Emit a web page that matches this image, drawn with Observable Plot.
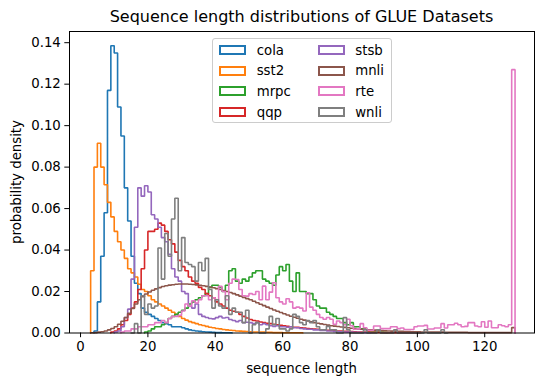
<!DOCTYPE html>
<html><head><meta charset="utf-8">
<script src="https://cdn.jsdelivr.net/npm/d3@7"></script>
<script src="https://cdn.jsdelivr.net/npm/@observablehq/plot@0.6"></script>
<style>
body{margin:0;background:#fff;font-family:"DejaVu Sans",sans-serif;color:#000;}
#wrap{position:relative;width:544px;height:385px;overflow:hidden;}
#title{position:absolute;left:69px;width:465px;top:7px;text-align:center;font-size:16px;line-height:20px;white-space:nowrap;}
#chart{position:absolute;left:0;top:30px;}
#xlabel{position:absolute;left:69px;width:465px;top:361px;text-align:center;font-size:13.3px;line-height:16px;}
#ylabel{position:absolute;left:-83px;top:174px;width:200px;height:16px;line-height:16px;text-align:center;font-size:13.3px;transform:rotate(-90deg);transform-origin:center;white-space:nowrap;}
#legend{position:absolute;left:212px;top:38px;box-sizing:border-box;border:1px solid #cccccc;border-radius:3px;background:rgba(255,255,255,0.8);padding:4px 7px 3px 6px;display:grid;grid-template-rows:repeat(4,14px);grid-auto-flow:column;column-gap:26.7px;row-gap:6.7px;font-size:13.3px;}
.item{display:flex;align-items:center;height:14px;white-space:nowrap;}
.patch{box-sizing:border-box;width:27px;height:10px;border:2px solid;background:#fff;margin-right:10.7px;}
</style>
</head><body>
<div id="wrap">
  <div id="title">Sequence length distributions of GLUE Datasets</div>
  <div id="chart"></div>
  <div id="xlabel">sequence length</div>
  <div id="ylabel">probability density</div>
  <div id="legend"></div>
</div>
<script>
// Series names and colours (legend order)
const names = ["cola","sst2","mrpc","qqp","stsb","mnli","rte","wnli"];
const colors = ["#1f77b4","#ff7f0e","#2ca02c","#d62728","#9467bd","#8c564b","#e377c2","#7f7f7f"];

// Axis ticks
const xTicks = [0,20,40,60,80,100,120];
const yTicks = [0,0.02,0.04,0.06,0.08,0.10,0.12,0.14];

// Histogram densities: first bin (sequence length) and one density per unit-width bin
const colaStart = 4;
const cola = [0.001,0.015,0.037,0.058,0.117,0.1385,0.135,0.109,0.095,0.070,0.054,0.037,0.024,0.019,0.012,0.010,0.009,0.008,0.007,0.006,0.005,0.0045,0.004,0.003,0.003,0.003,0.0025,0.002,0.0015,0.0012,0.001,0.0008,0.0006,0.0005,0.0004,0.0003,0.0002,0.0002,0.0001,0.0001,0.0001];

const sst2Start = 3;
const sst2 = [0.030,0.080,0.0915,0.080,0.0715,0.063,0.056,0.049,0.044,0.040,0.036,0.031,0.029,0.027,0.0235,0.021,0.020,0.018,0.016,0.015,0.014,0.013,0.012,0.011,0.010,0.009,0.008,0.007,0.0062,0.0055,0.005,0.0045,0.004,0.0036,0.0032,0.0028,0.0025,0.0022,0.002,0.0017,0.0015,0.0013,0.0012,0.001,0.0009,0.0008,0.0007,0.0006,0.0005,0.0005,0.0004,0.0004,0.0003,0.0003,0.0002,0.0002,0.0002,0.0001,0.0001,0.0001,0.0001,0.0001,0.0001];

const mrpcStart = 19;
const mrpc = [0.0005,0.001,0.002,0.003,0.003,0.004,0.005,0.007,0.008,0.009,
  0.010,0.011,0.012,0.014,0.015,0.016,0.017,0.018,0.019,0.022,
  0.023,0.023,0.022,0.020,0.023,0.030,0.031,0.025,0.024,0.026,
  0.025,0.027,0.029,0.030,0.030,0.026,0.025,0.024,0.023,0.028,
  0.032,0.030,0.033,0.025,0.020,0.029,0.020,0.020,0.019,0.019,
  0.016,0.013,0.012,0.012,0.010,0.009,0.008,0.007,0.007,0.005,
  0.004,0.005,0.003,0.003,0.002,0.002,0.001,0.001,0.001,0.0005,0.0005,0.0003];

const qqpStart = 9;
const qqp = [0.0005,0.001,0.002,0.004,0.006,0.009,0.012,0.015,0.021,0.031,
  0.040,0.049,0.049,0.050,0.053,0.052,0.049,0.045,0.043,0.039,
  0.035,0.032,0.030,0.027,0.025,0.024,0.022,0.021,0.019,0.018,
  0.017,0.015,0.014,0.013,0.012,0.011,0.0105,0.010,0.009,0.008,
  0.0072,0.0065,0.006,0.0058,0.0053,0.005,0.0047,0.0045,0.0042,0.004,
  0.0037,0.0035,0.0032,0.003,0.0028,0.0027,0.0025,0.0024,0.0022,0.002,
  0.0019,0.0018,0.0016,0.0015,0.0013,0.0012,0.0011,0.001,0.0009,0.0008,
  0.0008,0.0007,0.0006,0.0005,0.0005,0.0004,0.0004,0.0003,0.0003,0.0003,
  0.0002,0.0002,0.0001,0.0001,0.0001,0.0001,0.0001,0.0001,0.0001,0.0001,0.0001,0.0001];

const stsbStart = 10;
const stsb = [0.0005,0.001,0.003,0.0074,0.0115,0.026,0.051,0.070,0.066,0.071,
  0.068,0.057,0.055,0.051,0.046,0.044,0.038,0.031,0.027,0.025,
  0.020,0.019,0.013,0.012,0.014,0.009,0.008,0.0075,0.007,0.0068,
  0.0074,0.008,0.0072,0.0075,0.0065,0.006,0.0055,0.006,0.005,0.0052,
  0.005,0.0045,0.005,0.004,0.0045,0.004,0.0035,0.0032,0.0035,0.003,
  0.003,0.0028,0.003,0.0025,0.0025,0.0022,0.002,0.0018,0.0018,0.0015,
  0.0015,0.0012,0.0012,0.001,0.001,0.0008,0.0007,0.0006,0.0005,0.0004,
  0.0004,0.0003,0.0003,0.0002,0.0002,0.0001];

const mnliStart = 3;
const mnli = [0.0001,0.0002,0.0004,0.0006,0.001,0.0015,0.0022,0.003,0.0042,0.0057,
  0.0075,0.0095,0.0118,0.014,0.016,0.0175,0.0188,0.0198,0.0206,0.0213,
  0.0219,0.0224,0.0228,0.0231,0.0233,0.0235,0.0236,0.0236,0.0236,0.0235,
  0.0234,0.0232,0.023,0.0228,0.0225,0.0222,0.0218,0.0214,0.021,0.0205,
  0.02,0.0195,0.019,0.0184,0.0178,0.0172,0.0166,0.016,0.0153,0.0146,
  0.0139,0.0132,0.0125,0.0118,0.0111,0.0105,0.0099,0.0093,0.0087,0.0081,
  0.0076,0.0071,0.0066,0.0062,0.0058,0.0054,0.005,0.0047,0.0044,0.0041,
  0.0038,0.0035,0.0033,0.0031,0.0029,0.0027,0.0025,0.0023,0.0021,0.002,
  0.0018,0.0017,0.0016,0.0015,0.0014,0.0013,0.0012,0.0011,0.001,0.0009,
  0.0009,0.0008,0.0008,0.0007,0.0007,0.0006,0.0006,0.0006,0.0005,0.0005,
  0.0005,0.0004,0.0004,0.0004,0.0004,0.0003,0.0003,0.0003,0.0003,0.0003,
  0.0003,0.0003,0.0002,0.0002,0.0002,0.0002,0.0002,0.0002,0.0002,0.0002,
  0.0002,0.0002,0.0002,0.0002,0.0002,0.0026];

const rteStart = 12;
const rte = [0.0005,0.001,0.001,0.002,0.002,0.003,0.003,0.003,0.004,0.004,
  0.005,0.005,0.006,0.005,0.007,0.008,0.008,0.0085,0.0106,0.014,
  0.013,0.0155,0.0145,0.016,0.018,0.018,0.016,0.017,0.016,0.0225,
  0.020,0.016,0.024,0.026,0.0258,0.021,0.018,0.0178,0.019,0.0186,
  0.020,0.016,0.0226,0.016,0.0197,0.0242,0.017,0.015,0.014,0.0165,
  0.015,0.012,0.0125,0.012,0.0106,0.0194,0.0125,0.011,0.009,0.0075,
  0.0066,0.0075,0.0066,0.0042,0.0058,0.005,0.004,0.0066,0.0035,0.0018,
  0.002,0.0045,0.0025,0.0013,0.0013,0.0034,0.0034,0.0021,0.0021,0.0021,
  0.003,0.003,0.0021,0.0024,0.0017,0.0017,0.0017,0.003,0.0034,0.0034,
  0.0037,0.0019,0.0019,0.0024,0.0024,0.0045,0.0024,0.004,0.004,0.0047,
  0.004,0.003,0.0032,0.005,0.005,0.0034,0.003,0.0054,0.0028,0.0058,
  0.0025,0.0025,0.004,0.0035,0.003,0.004,0.127];

const wnliStart = 15;
const wnli = [0,0.0045,0,0.018,0.009,0.014,0.012,0.013,0.041,0.026,
  0.048,0.037,0.055,0.065,0.030,0.046,0.034,0.033,0.032,0.025,
  0.034,0.030,0.036,0.021,0.012,0.016,0.013,0.012,0.018,0.009,
  0.012,0.010,0.010,0.005,0.011,0,0.004,0.005,0,0,
  0.002,0.008,0.004,0.007,0.002,0.002,0.001,0.002,0.009,0.008,
  0.005,0.004,0.006,0.005,0.006,0.003,0.0016,0.0016,0.0032,0.0016,
  0.0016,0,0,0.0074,0.0016,0,0,0,0,0.0016,
  0,0,0,0.0016,0,0,0,0,0.0016,0,
  0,0,0,0,0,0,0,0.0016,0,0,
  0,0,0.0016,0];

const starts = [colaStart,sst2Start,mrpcStart,qqpStart,stsbStart,mnliStart,rteStart,wnliStart];
const valuesList = [cola,sst2,mrpc,qqp,stsb,mnli,rte,wnli];

// Build step outlines (matplotlib histtype="step"): down to 0 at both ends
function outline(start, vals) {
  const pts = [{x: start, y: 0}];
  vals.forEach((v, i) => pts.push({x: start + i, y: v}));
  pts.push({x: start + vals.length, y: 0});
  return pts;
}

const lineMarks = names.map((n, i) =>
  Plot.line(outline(starts[i], valuesList[i]), {
    x: "x", y: "y", stroke: colors[i], strokeWidth: 1.6, curve: "step-after", strokeLinejoin: "miter"
  })
);

const chart = Plot.plot({
  width: 544,
  height: 355,
  marginTop: 1,
  marginBottom: 52.5,
  marginLeft: 69,
  marginRight: 10,
  x: {domain: [-3.275, 134.775]},
  y: {domain: [0, 0.1454]},
  style: {fontFamily: "DejaVu Sans", fontSize: "13.3px", color: "black", background: "white", overflow: "visible"},
  marks: [
    ...lineMarks,
    Plot.axisX({ticks: xTicks, tickSize: 4.7, tickPadding: 4, label: null, tickFormat: d => String(d)}),
    Plot.axisY({ticks: yTicks, tickSize: 4.7, tickPadding: 4, label: null, tickFormat: d3.format(".2f")}),
    Plot.frame({stroke: "black", strokeWidth: 1})
  ]
});
document.getElementById("chart").appendChild(chart);

// Legend
const legend = document.getElementById("legend");
names.forEach((n, i) => {
  const item = document.createElement("div");
  item.className = "item";
  const p = document.createElement("span");
  p.className = "patch";
  p.style.borderColor = colors[i];
  const t = document.createElement("span");
  t.textContent = n;
  item.appendChild(p);
  item.appendChild(t);
  legend.appendChild(item);
});
</script>
</body></html>
